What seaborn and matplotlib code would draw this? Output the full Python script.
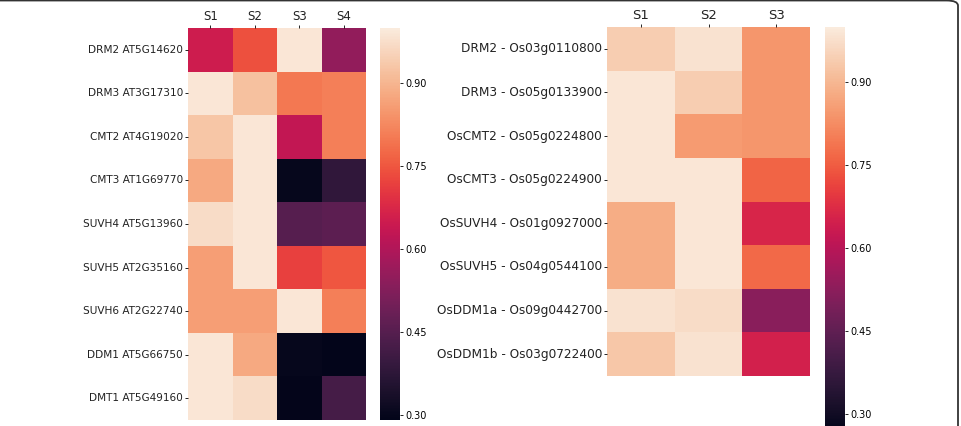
import numpy as np
import pandas as pd
import matplotlib
matplotlib.use("Agg")
import matplotlib.pyplot as plt
from matplotlib.patches import FancyBboxPatch
import seaborn as sns

# ---- data ----
at_genes = ["DRM2 AT5G14620", "DRM3 AT3G17310", "CMT2 AT4G19020", "CMT3 AT1G69770",
            "SUVH4 AT5G13960", "SUVH5 AT2G35160", "SUVH6 AT2G22740", "DDM1 AT5G66750",
            "DMT1 AT5G49160"]
at_samples = ["S1", "S2", "S3", "S4"]
at_s1 = [0.65, 0.99, 0.93, 0.88, 0.97, 0.86, 0.86, 0.99, 0.99]
at_s2 = [0.74, 0.92, 0.99, 0.99, 0.99, 0.99, 0.86, 0.88, 0.97]
at_s3 = [0.99, 0.80, 0.63, 0.30, 0.45, 0.72, 0.99, 0.30, 0.295]
at_s4 = [0.55, 0.81, 0.81, 0.38, 0.46, 0.75, 0.81, 0.293, 0.42]

os_genes = ["DRM2 - Os03g0110800", "DRM3 - Os05g0133900", "OsCMT2 - Os05g0224800",
            "OsCMT3 - Os05g0224900", "OsSUVH4 - Os01g0927000", "OsSUVH5 - Os04g0544100",
            "OsDDM1a - Os09g0442700", "OsDDM1b - Os03g0722400"]
os_samples = ["S1", "S2", "S3"]
os_s1 = [0.94, 0.99, 0.99, 0.99, 0.88, 0.88, 0.98, 0.93]
os_s2 = [0.98, 0.94, 0.85, 0.99, 0.99, 0.99, 0.97, 0.98]
os_s3 = [0.84, 0.84, 0.84, 0.76, 0.66, 0.77, 0.52, 0.65]

cbar_ticks = [0.30, 0.45, 0.60, 0.75, 0.90]

at_df = pd.DataFrame(np.column_stack([at_s1, at_s2, at_s3, at_s4]),
                     index=at_genes, columns=at_samples)
os_df = pd.DataFrame(np.column_stack([os_s1, os_s2, os_s3]),
                     index=os_genes, columns=os_samples)

W, H = 961, 426
fig = plt.figure(figsize=(W / 100, H / 100), dpi=100)


def box(x0, y0, x1, y1):
    # pixel coords (top-left origin) -> figure fraction rect
    return [x0 / W, 1 - y1 / H, (x1 - x0) / W, (y1 - y0) / H]


ax1 = fig.add_axes(box(188, 28, 366, 420))
cax1 = fig.add_axes(box(380, 28, 400, 420))
ax2 = fig.add_axes(box(607, 27, 810, 376))
cax2 = fig.add_axes(box(825, 27, 845, 432))

sns.heatmap(at_df, ax=ax1, cbar_ax=cax1, cmap="rocket", vmin=0.291, vmax=1.0,
            cbar_kws={"ticks": cbar_ticks})
sns.heatmap(os_df, ax=ax2, cbar_ax=cax2, cmap="rocket", vmin=0.268, vmax=1.0,
            cbar_kws={"ticks": cbar_ticks})

for ax, fs_y, fs_x in [(ax1, 7.6, 8.5), (ax2, 8.7, 9.5)]:
    ax.xaxis.tick_top()
    ax.set_xlabel("")
    ax.set_ylabel("")
    ax.tick_params(axis="y", labelsize=fs_y, length=2.5, width=0.6, pad=1, rotation=0)
    ax.tick_params(axis="x", labelsize=fs_x, length=2, width=0.6, pad=1.5, rotation=0)
    for lab in ax.get_yticklabels():
        lab.set_color("#222222")
    for lab in ax.get_xticklabels():
        lab.set_color("#222222")

for cax in (cax1, cax2):
    cax.tick_params(labelsize=7, length=2.5, width=0.6, pad=1.5)
    cax.set_yticklabels([f"{t:.2f}" for t in cbar_ticks])
    for sp in cax.spines.values():
        sp.set_visible(False)

# rounded frame (top and right edges visible)
frame = FancyBboxPatch((-20 / W, -30 / H), (958 + 20) / W, (426 + 29.5) / H,
                       boxstyle="round,pad=0,rounding_size=0.012",
                       transform=fig.transFigure, fill=False,
                       edgecolor="#333333", linewidth=1.3, zorder=10)
fig.patches.append(frame)

fig.savefig("out.png", dpi=100, facecolor="white")
